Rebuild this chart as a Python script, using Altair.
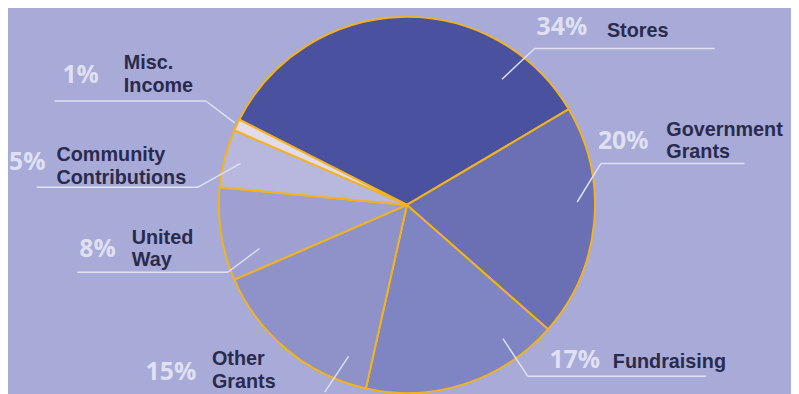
import math
import altair as alt
import pandas as pd

# ---- data ----
categories = ["Stores", "Government Grants", "Fundraising", "Other Grants",
              "United Way", "Community Contributions", "Misc. Income"]
shares = [34, 20, 17, 15, 8, 5, 1]
pct_labels = ["34%", "20%", "17%", "15%", "8%", "5%", "1%"]
name_lines = [["Stores"], ["Government", "Grants"], ["Fundraising"], ["Other", "Grants"],
              ["United", "Way"], ["Community", "Contributions"], ["Misc.", "Income"]]

# ---- styling ----
slice_colors = ["#4a519e", "#6b70b4", "#7f84c2", "#8e92c9", "#9da0d0", "#b8b8de", "#e4dbea"]
BG = "#a8aad8"
GOLD = "#f2b31e"
PCT_COLOR = "#dfe1f3"
NAME_COLOR = "#2a2b4c"
LEADER = "#dfe1f2"

# ---- layout (picture pixel frame) ----
W, H, M = 799, 394, 8
center = (411, 205)
radius = 190
start_deg = 297
pct_pos = [(542, 33), (604, 148), (555, 370), (147, 382), (80, 258), (9, 170), (63, 82)]
name_pos = [(613, 35), (673, 135), (619, 370), (214, 367), (133, 244), (57, 161), (125, 68)]
line_gap = 23
leaders = [
    [(507, 78), (540, 47), (722, 47)],
    [(583, 202), (607, 163), (752, 163)],
    [(508, 340), (533, 378), (713, 378)],
    [(352, 358), (328, 394)],
    [(262, 249), (230, 273), (78, 273)],
    [(243, 163), (200, 187), (37, 187)],
    [(237, 122), (208, 100), (55, 100)],
]

slices = pd.DataFrame({"category": categories, "share": shares,
                       "order": list(range(len(categories)))})

pct_rows = [{"t": p, "x": xy[0], "y": xy[1]} for p, xy in zip(pct_labels, pct_pos)]
name_rows = []
for lines, xy in zip(name_lines, name_pos):
    for i, ln in enumerate(lines):
        name_rows.append({"t": ln, "x": xy[0], "y": xy[1] + i * line_gap})
seg_rows = []
for pts in leaders:
    for a, b in zip(pts[:-1], pts[1:]):
        seg_rows.append({"x": a[0], "y": a[1], "x2": b[0], "y2": b[1]})

xs = alt.Scale(domain=[M, W], range=[0, W - M])
ys = alt.Scale(domain=[M, H], range=[0, H - M])

start = math.radians(start_deg)
pie = alt.Chart(slices).mark_arc(
    outerRadius=radius, stroke=GOLD, strokeWidth=2, strokeJoin="round"
).encode(
    theta=alt.Theta("share:Q", stack=True, scale=alt.Scale(range=[start, start + 2 * math.pi])),
    order=alt.Order("order:Q", sort="ascending"),
    color=alt.Color("category:N", scale=alt.Scale(domain=categories, range=slice_colors), legend=None),
    x=alt.value(center[0] - M),
    y=alt.value(center[1] - M),
)

segs = alt.Chart(pd.DataFrame(seg_rows)).mark_rule(color=LEADER, strokeWidth=1.5).encode(
    x=alt.X("x:Q", scale=xs, axis=None),
    y=alt.Y("y:Q", scale=ys, axis=None),
    x2="x2:Q", y2="y2:Q",
)

pcts = alt.Chart(pd.DataFrame(pct_rows)).mark_text(
    align="left", baseline="alphabetic", font="Open Sans", fontSize=25,
    fontWeight="bold", color=PCT_COLOR
).encode(x=alt.X("x:Q", scale=xs, axis=None), y=alt.Y("y:Q", scale=ys, axis=None), text="t:N")

names = alt.Chart(pd.DataFrame(name_rows)).mark_text(
    align="left", baseline="alphabetic", font="Liberation Sans", fontSize=20,
    fontWeight="bold", color=NAME_COLOR
).encode(x=alt.X("x:Q", scale=xs, axis=None), y=alt.Y("y:Q", scale=ys, axis=None), text="t:N")

chart = alt.layer(pie, segs, pcts, names).properties(
    width=W - M, height=H - M,
    autosize=alt.AutoSizeParams(type="none"),
    padding=0,
    background=BG,
).configure_view(stroke=None)

chart.save("out.html", embed_options={"renderer": "svg", "actions": False})
